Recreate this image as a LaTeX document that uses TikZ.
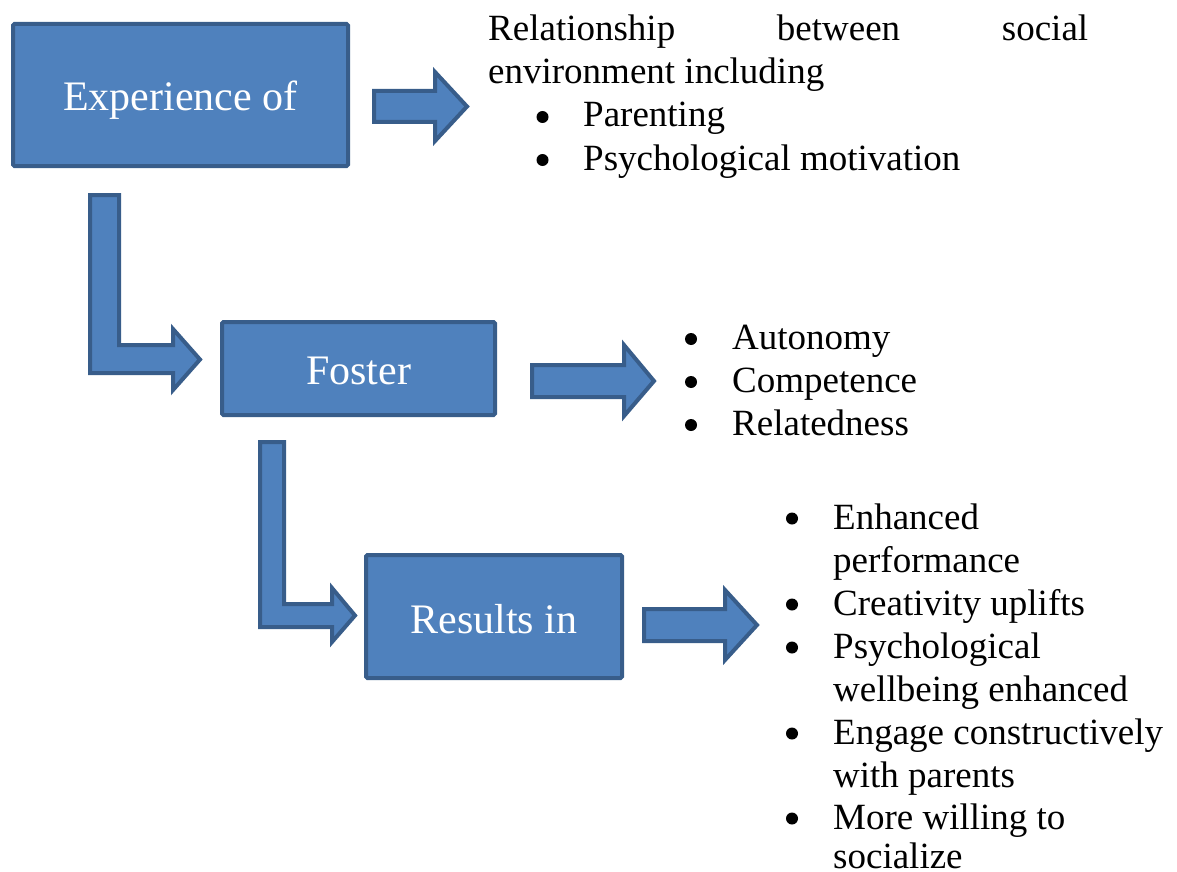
\documentclass[tikz,border=0pt]{standalone}
\usepackage{fontspec}
\setmainfont{Liberation Serif}
\begin{document}
\begin{tikzpicture}[x=1pt,y=-1pt,
  blockfill/.style={fill=boxblue,draw=boxedge,line width=4pt,line join=miter,miter limit=10},
  stagebox/.style={blockfill,rounded corners=1.5pt},
  stagelabel/.style={text=white,font=\fontsize{42}{48}\selectfont,inner sep=0pt,anchor=base},
  listline/.style={font=\fontsize{37}{43}\selectfont,inner sep=0pt,anchor=base west},
  bulletdot/.style={circle,fill=black,inner sep=0pt,minimum size=12pt}]
\definecolor{boxblue}{HTML}{4F81BD}
\definecolor{boxedge}{HTML}{385D8A}
\useasboundingbox (0,0) rectangle (1177,872);

% stage boxes
\draw[stagebox] (13,24) rectangle (348,166);
\draw[stagebox] (222,322) rectangle (495,415);
\draw[stagebox] (366,555) rectangle (622,678);
\node[stagelabel] (exp) at (180.5,111) {Experience of};
\node[stagelabel] (fos) at (358.5,384) {Foster};
\node[stagelabel] (res) at (494,633) {Results in};

% straight block arrows
\draw[blockfill] (374,91) -- (435,91) -- (435,72) -- (467,106.5) -- (435,141) -- (435,122) -- (374,122) -- cycle;
\draw[blockfill] (532,365) -- (624,365) -- (624,345) -- (654,381) -- (624,416) -- (624,397) -- (532,397) -- cycle;
\draw[blockfill] (644,609) -- (725,609) -- (725,590) -- (757,625) -- (725,660) -- (725,641) -- (644,641) -- cycle;

% bent block arrows
\draw[blockfill] (90,195) -- (119,195) -- (119,345) -- (173,345) -- (173,329) -- (200,359.5) -- (173,390) -- (173,373) -- (90,373) -- cycle;
\draw[blockfill] (260,442) -- (284,442) -- (284,604) -- (332,604) -- (332,588) -- (355,615.5) -- (332,642) -- (332,627) -- (260,627) -- cycle;

% social environment text
\node[listline] (rel1) at (488,41) {\hbox to 600pt{Relationship\hfill between\hfill social}};
\node[listline] (rel2) at (488,84) {environment including};
\node[bulletdot] (b1) at (542.5,117) {};
\node[listline] (p1) at (583,127) {Parenting};
\node[bulletdot] (b2) at (542.5,160) {};
\node[listline] (p2) at (583,170) {Psychological motivation};

% needs
\node[bulletdot] (c1) at (691,339) {};
\node[listline] (n1) at (732,349.5) {Autonomy};
\node[bulletdot] (c2) at (691,382) {};
\node[listline] (n2) at (732,392.5) {Competence};
\node[bulletdot] (c3) at (691,425) {};
\node[listline] (n3) at (732,435.5) {Relatedness};

% outcomes
\node[bulletdot] (d1) at (792,518.5) {};
\node[listline] (o1a) at (833,529) {Enhanced};
\node[listline] (o1b) at (833,572) {performance};
\node[bulletdot] (d2) at (792,604.5) {};
\node[listline] (o2) at (833,615) {Creativity uplifts};
\node[bulletdot] (d3) at (792,647.5) {};
\node[listline] (o3a) at (833,658) {Psychological};
\node[listline] (o3b) at (833,701) {wellbeing enhanced};
\node[bulletdot] (d4) at (792,733.5) {};
\node[listline] (o4a) at (833,744) {Engage constructively};
\node[listline] (o4b) at (833,787) {with parents};
\node[bulletdot] (d5) at (792,818.5) {};
\node[listline] (o5a) at (833,829) {More willing to};
\node[listline] (o5b) at (833,868.5) {socialize};
\end{tikzpicture}
\end{document}
